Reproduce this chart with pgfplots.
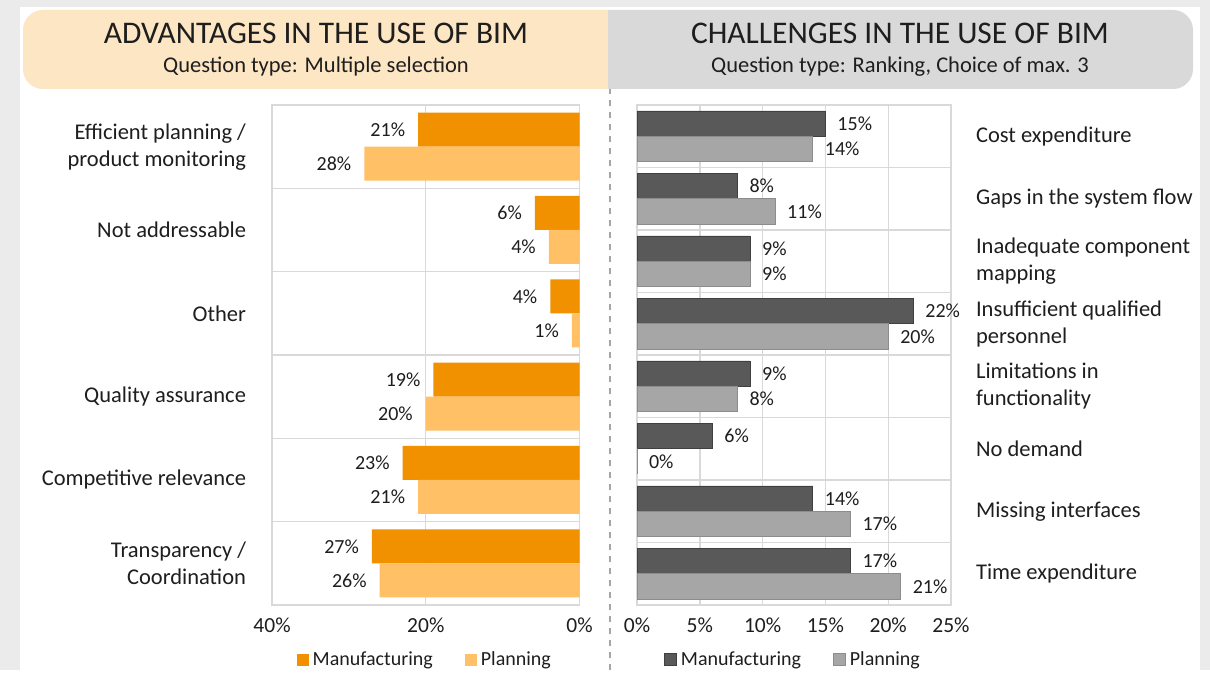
\documentclass[border=0pt]{standalone}
\usepackage{fontspec}
\setmainfont{Carlito}
\usepackage{pgfplots}
\pgfplotsset{compat=1.18}
\definecolor{mfg}{HTML}{F29100}
\definecolor{pln}{HTML}{FFC066}
\definecolor{dgr}{HTML}{595959}
\definecolor{lgr}{HTML}{A6A6A6}
\definecolor{grd}{HTML}{D9D9D9}
\definecolor{hdo}{HTML}{FDE6C4}
\definecolor{hdg}{HTML}{D9D9D9}
\definecolor{txt}{HTML}{1E1E1E}
\pgfplotsset{
  common/.style={
    scale only axis, height=250pt, xbar,
    /pgf/number format/assume math mode=true,
    enlargelimits=false,
    xmajorgrids, yminorgrids,
    grid style={grd, line width=0.7pt},
    minor grid style={grd, line width=0.7pt},
    axis line style={grd, line width=0.7pt},
    major tick length=0pt, minor tick length=0pt,
    tick style={draw=none},
    point meta=x,
    xticklabel={\pgfmathprintnumber{\tick}\%},
    xticklabel style={font=\fontsize{10.75}{12}\selectfont, text=txt, yshift=-3pt},
    nodes near coords={\pgfmathprintnumber[fixed,precision=0]{\pgfplotspointmeta}\%},
    legend style={at={(0.5,0)}, anchor=north, yshift=-19pt, draw=none, fill=none,
      legend columns=2, font=\fontsize{10}{12}\selectfont, text=txt,
      /tikz/every even column/.append style={column sep=14pt}},
    legend image code/.code={\fill[##1] (0pt,-3pt) rectangle (6pt,3pt);},
  }
}
\begin{document}
\begin{tikzpicture}
% background card
\fill[black!8] (0,0) rectangle (605pt,335pt);
\fill[white] (10pt,0) rectangle (600pt,331.5pt);
% headers
\fill[hdo] (304pt,290.5pt) [rounded corners=10pt] -- (11.5pt,290.5pt) -- (11.5pt,330pt) [sharp corners] -- (304pt,330pt) -- cycle;
\fill[hdg] (304pt,290.5pt) -- (304pt,330pt) [rounded corners=10pt] -- (596.5pt,330pt) -- (596.5pt,290.5pt) [sharp corners] -- cycle;
\node[font=\fontsize{15.75}{18}\selectfont, text=txt] at (158pt,318.5pt) {ADVANTAGES IN THE USE OF BIM};
\node[font=\fontsize{11.25}{13}\selectfont, text=txt] at (158pt,301.5pt) {Question type: Multiple selection};
\node[font=\fontsize{15.75}{18}\selectfont, text=txt] at (450pt,318.5pt) {CHALLENGES IN THE USE OF BIM};
\node[font=\fontsize{11.25}{13}\selectfont, text=txt] at (450pt,301.5pt) {Question type: Ranking, Choice of max. 3};
\draw[black!35, dashed, line width=0.6pt] (305pt,0pt) -- (305pt,290.5pt);

% left chart
\begin{axis}[common,
  at={(212.9pt,157.5pt)}, anchor=center, width=153.75pt,
  x dir=reverse, xmin=0, xmax=40, xtick={0,20,40},
  ymin=0.5, ymax=6.5, ytick={1,...,6},
  minor ytick={1.5,2.5,3.5,4.5,5.5},
  yticklabels={{Transparency /\\Coordination},{Competitive relevance},{Quality assurance},{Other},{Not addressable},{Efficient planning /\\product monitoring}},
  yticklabel pos=left,
  yticklabel style={align=right, font=\fontsize{11.25}{13.5}\selectfont, text=txt, xshift=-9.5pt},
  bar width=17pt,
  every node near coord/.append style={anchor=east, xshift=-3pt, font=\fontsize{10}{11}\selectfont, text=txt},
]
\addplot[fill=mfg, draw=none, bar shift=8.5pt] coordinates {(27,1) (23,2) (19,3) (3.8,4) (5.8,5) (21,6)};
\addplot[fill=pln, draw=none, bar shift=-8.5pt] coordinates {(26,1) (21,2) (20,3) (1,4) (4,5) (28,6)};
\legend{Manufacturing, Planning}
\end{axis}

% right chart
\begin{axis}[common,
  at={(397pt,157.5pt)}, anchor=center, width=157pt,
  xmin=0, xmax=25, xtick={0,5,...,25},
  ymin=0.5, ymax=8.5, ytick={1,...,8},
  minor ytick={1.5,2.5,...,7.5},
  yticklabels={{Time expenditure},{Missing interfaces},{No demand},{Limitations in\\functionality},{Insufficient qualified\\personnel},{Inadequate component\\mapping},{Gaps in the system flow},{Cost expenditure}},
  yticklabel pos=right,
  yticklabel style={align=left, font=\fontsize{11.25}{13.5}\selectfont, text=txt, xshift=9pt},
  bar width=12.65pt,
  every node near coord/.append style={anchor=west, xshift=2.5pt, font=\fontsize{10}{11}\selectfont, text=txt},
]
\addplot[fill=dgr, draw=black!75, line width=0.4pt, bar shift=6.3pt] coordinates {(17,1) (14,2) (6,3) (9,4) (22,5) (9,6) (8,7) (15,8)};
\addplot[fill=lgr, draw=black!45, line width=0.4pt, bar shift=-6.3pt] coordinates {(21,1) (17,2) (0,3) (8,4) (20,5) (9,6) (11,7) (14,8)};
\legend{Manufacturing, Planning}
\end{axis}
\end{tikzpicture}
\end{document}
